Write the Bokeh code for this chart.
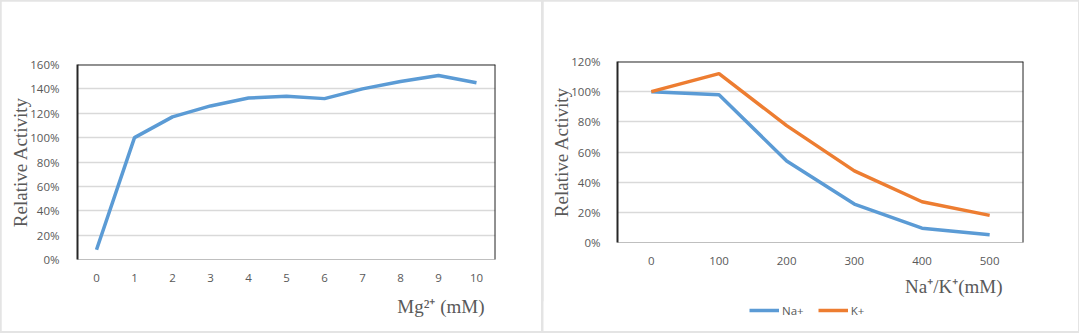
from bokeh.plotting import figure
from bokeh.layouts import row, column
from bokeh.models import (Legend, LegendItem, Span, PrintfTickFormatter,
                          FixedTicker, Range1d, Title)
from bokeh.embed import file_html
from bokeh.resources import INLINE

# ---- data ----
mg_conc = [0, 1, 2, 3, 4, 5, 6, 7, 8, 9, 10]
mg_activity = [8, 100, 117, 126, 132.5, 134, 132, 140, 146, 151, 145]

ion_conc = [0, 100, 200, 300, 400, 500]
na_activity = [100, 98, 54, 25.5, 9.5, 5.2]
k_activity = [100, 112, 77.5, 47.5, 27, 18]

series_names = ["Na+", "K+"]

left_yticks = [0, 20, 40, 60, 80, 100, 120, 140, 160]
right_yticks = [0, 20, 40, 60, 80, 100, 120]

BLUE = "#5B9BD5"
ORANGE = "#ED7D31"
GRAY_TXT = "#595959"
GRID = "#d9d9d9"
FRAME = "#262626"
TICK_FONT = "Open Sans"
SERIF = "Liberation Serif"


def style(p, yticks, xticks, standoff_y):
    p.xgrid.grid_line_color = None
    p.ygrid.grid_line_color = GRID
    p.ygrid.grid_line_width = 1.5
    p.ygrid.ticker = FixedTicker(ticks=yticks)
    p.outline_line_color = None
    p.yaxis.ticker = FixedTicker(ticks=yticks)
    p.yaxis.formatter = PrintfTickFormatter(format="%d%%")
    p.xaxis.ticker = FixedTicker(ticks=xticks)
    for ax in (p.xaxis[0], p.yaxis[0]):
        ax.major_tick_line_color = None
        ax.minor_tick_line_color = None
        ax.major_label_text_font = TICK_FONT
        ax.major_label_text_font_size = "11.5px"
        ax.major_label_text_color = GRAY_TXT
    p.yaxis.major_label_standoff = standoff_y
    p.xaxis.major_label_standoff = 8
    p.yaxis.axis_line_color = FRAME
    p.yaxis.axis_line_width = 2
    p.xaxis.axis_line_color = "#bfbfbf"
    p.xaxis.axis_line_width = 1
    p.yaxis.axis_label = "Relative Activity"
    p.yaxis.axis_label_text_font = SERIF
    p.yaxis.axis_label_text_font_style = "normal"
    p.yaxis.axis_label_text_font_size = "19px"
    p.yaxis.axis_label_text_color = GRAY_TXT
    p.yaxis.axis_label_standoff = -4


def xtitle(text, offset, standoff):
    return Title(text=text, align="right", offset=offset, standoff=standoff,
                 text_font=SERIF, text_font_style="normal", text_font_size="19px",
                 text_color=GRAY_TXT)


# ---- left panel ----
p1 = figure(width=540, height=330, x_range=Range1d(-0.5, 10.5), y_range=Range1d(0, 160),
            output_backend="svg", toolbar_location=None,
            min_border_left=76, min_border_right=46, min_border_top=63, min_border_bottom=72,
            margin=(1, 1, 2, 1))
style(p1, left_yticks, mg_conc, 12)
p1.line(mg_conc, mg_activity, line_color=BLUE, line_width=3.5)
p1.add_layout(Span(location=160, dimension="width", line_color=FRAME, line_width=2))
p1.add_layout(Span(location=10.5, dimension="height", line_color=FRAME, line_width=2))
p1.add_layout(xtitle("Mg\u00b2\u207a (mM)", 11, 19), "below")

# ---- right panel ----
p2 = figure(width=535, height=301, x_range=Range1d(-50, 550), y_range=Range1d(0, 120),
            output_backend="svg", toolbar_location=None,
            min_border_left=74, min_border_right=55, min_border_top=60, min_border_bottom=57,
            margin=(1, 1, 0, 1))
style(p2, right_yticks, ion_conc, 11)
p2.line(ion_conc, na_activity, line_color=BLUE, line_width=3.5)
p2.line(ion_conc, k_activity, line_color=ORANGE, line_width=3.5)
p2.add_layout(Span(location=120, dimension="width", line_color=FRAME, line_width=2))
p2.add_layout(Span(location=550, dimension="height", line_color=FRAME, line_width=2))
p2.add_layout(xtitle("Na\u207a/K\u207a(mM)", 21, 12), "below")

# ---- legend strip under the right panel ----
pl = figure(width=535, height=30, x_axis_type=None, y_axis_type=None,
            output_backend="svg", toolbar_location=None,
            min_border=0, margin=(-1, 1, 2, 1))
pl.outline_line_color = None
pl.grid.grid_line_color = None
leg_na = pl.line(ion_conc, na_activity, line_color=BLUE, line_width=3.5, visible=False)
leg_k = pl.line(ion_conc, k_activity, line_color=ORANGE, line_width=3.5, visible=False)
legend = Legend(items=[LegendItem(label=series_names[0], renderers=[leg_na]),
                       LegendItem(label=series_names[1], renderers=[leg_k])],
                orientation="horizontal", location=(206, 12),
                glyph_width=30, glyph_height=18, label_standoff=3, spacing=14,
                padding=0, margin=0, border_line_color=None, background_fill_alpha=0,
                inactive_fill_alpha=0,
                label_text_font=TICK_FONT, label_text_font_size="11.5px",
                label_text_color=GRAY_TXT)
pl.add_layout(legend, "center")

layout = row(column(p1), column(p2, column(pl), spacing=0), spacing=0,
             styles={"background-color": "#e4e4e4"})
open("out.html", "w").write(file_html(layout, INLINE))
